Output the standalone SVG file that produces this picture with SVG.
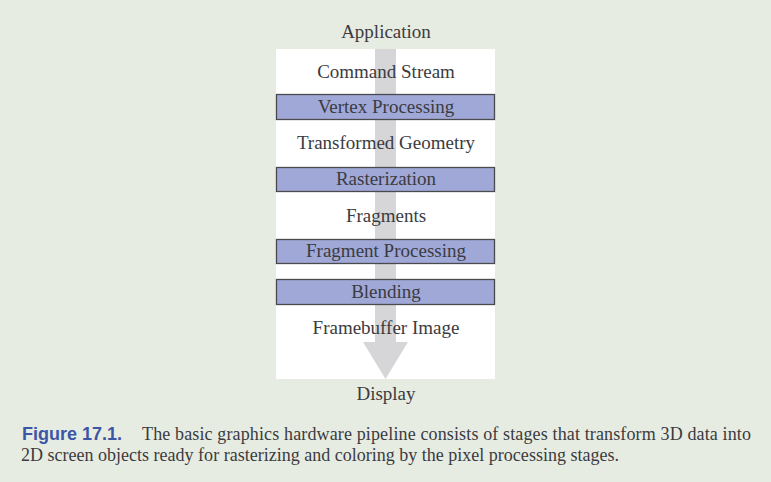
<svg xmlns="http://www.w3.org/2000/svg" width="771" height="482" viewBox="0 0 771 482">
<style>
.lbl{font-family:"Liberation Serif",serif;font-size:19px;fill:#3b3b40;text-anchor:middle}
.bar{fill:#a0a8d8;stroke:#4a4a4e;stroke-width:1.3}
.cap{font-family:"Liberation Serif",serif;font-size:18px;fill:#3b3b40}
.fig{font-family:"Liberation Sans",sans-serif;font-size:18px;font-weight:bold;fill:#3d55a6}
</style>
<rect x="0" y="0" width="771" height="482" fill="#e7ece2"/>
<rect x="276" y="49" width="219" height="330" fill="#ffffff"/>
<g id="connectors">
<path d="M375,49 H396 V342 H408 L385.5,379 L363,342 H375 Z" fill="#d6d6d8"/>
</g>
<g id="application"><text class="lbl" x="386" y="38">Application</text></g>
<g id="command-stream"><text class="lbl" x="386" y="78">Command Stream</text></g>
<g id="vertex-processing"><rect class="bar" x="276.5" y="94.5" width="218" height="25"/><text class="lbl" x="386" y="113">Vertex Processing</text></g>
<g id="transformed-geometry"><text class="lbl" x="386" y="149">Transformed Geometry</text></g>
<g id="rasterization"><rect class="bar" x="276.5" y="167.5" width="218" height="24"/><text class="lbl" x="386" y="185">Rasterization</text></g>
<g id="fragments"><text class="lbl" x="386" y="222">Fragments</text></g>
<g id="fragment-processing"><rect class="bar" x="276.5" y="239.5" width="218" height="24"/><text class="lbl" x="386" y="257">Fragment Processing</text></g>
<g id="blending"><rect class="bar" x="276.5" y="279.5" width="218" height="25"/><text class="lbl" x="386" y="298">Blending</text></g>
<g id="framebuffer-image"><text class="lbl" x="386" y="334">Framebuffer Image</text></g>
<g id="display"><text class="lbl" x="386" y="400">Display</text></g>
<g id="caption">
<text class="fig" x="22" y="440">Figure 17.1.</text>
<text class="cap" x="142" y="440" textLength="609" lengthAdjust="spacing">The basic graphics hardware pipeline consists of stages that transform 3D data into</text>
<text class="cap" x="21" y="461" textLength="598" lengthAdjust="spacing">2D screen objects ready for rasterizing and coloring by the pixel processing stages.</text>
</g>
</svg>
